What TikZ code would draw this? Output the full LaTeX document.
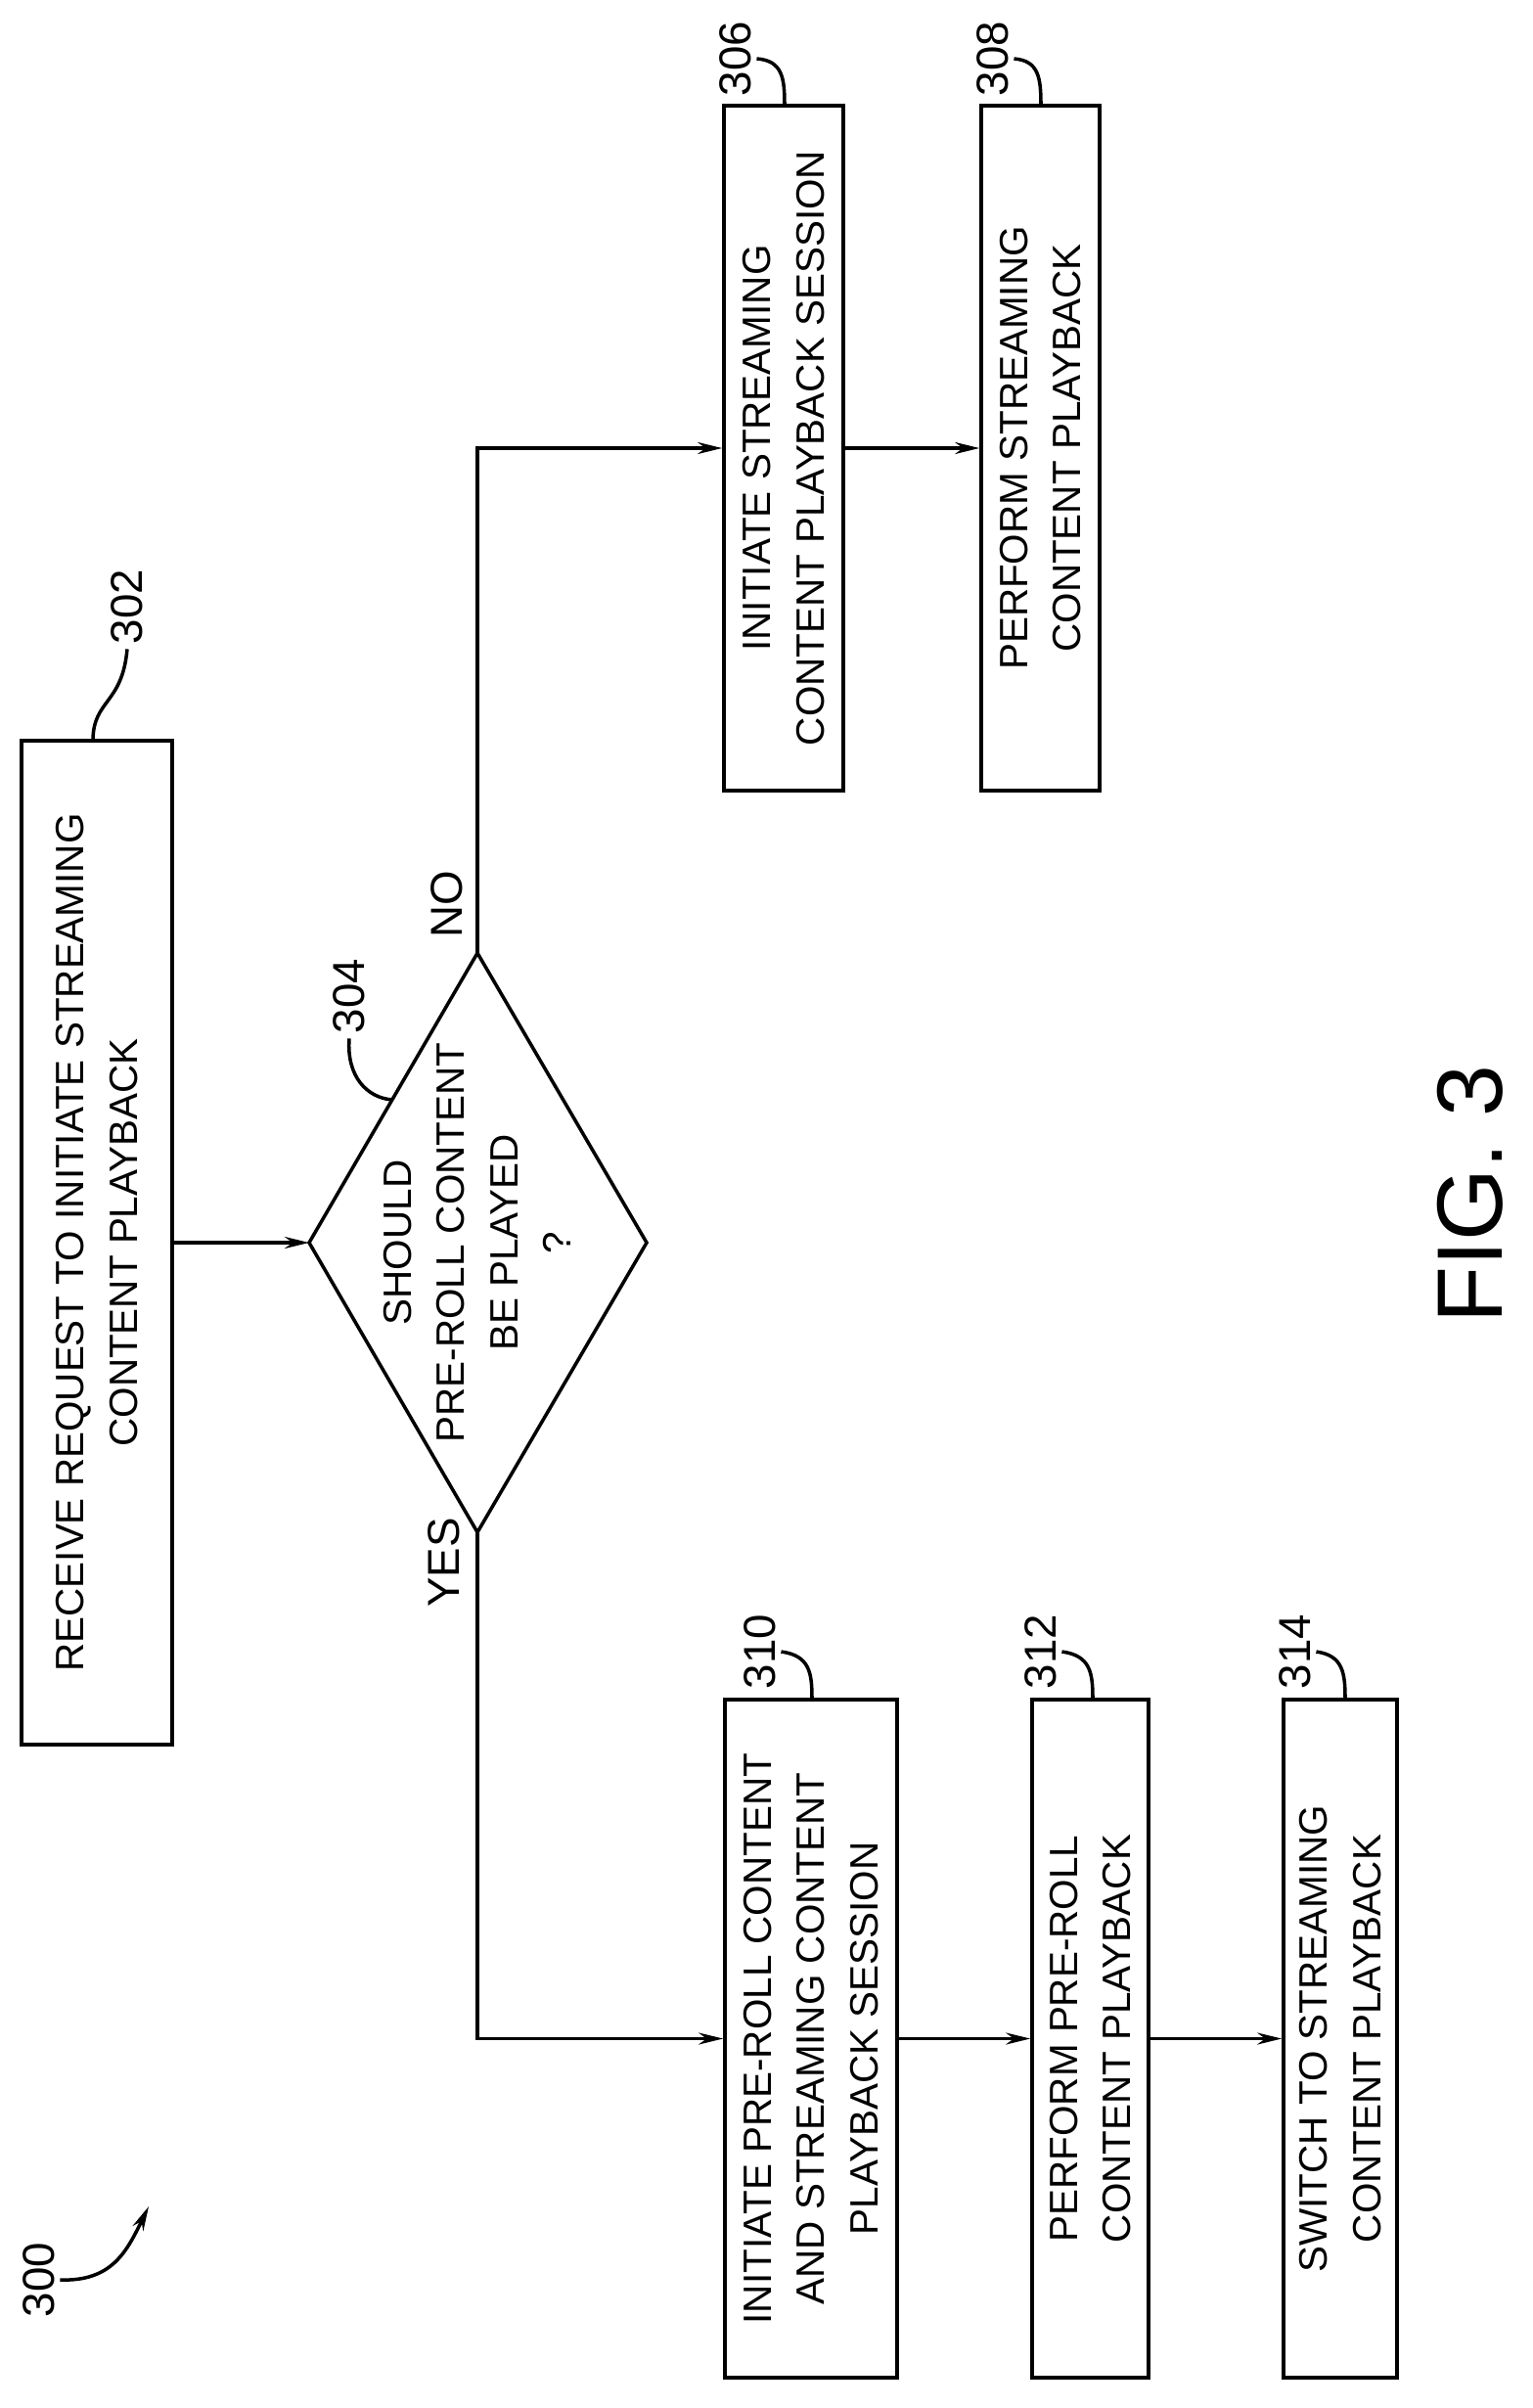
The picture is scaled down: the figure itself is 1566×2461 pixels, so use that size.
\documentclass[tikz,border=0pt]{standalone}
\usepackage{fontspec}
\setmainfont{Liberation Sans}
\usetikzlibrary{shapes.geometric,arrows.meta}
\begin{document}
\begin{tikzpicture}[x=0.01cm,y=-0.01cm,line width=1pt,
  box/.style={draw,rotate=90,align=center,inner sep=0pt,font=\fontsize{11.5}{15.5}\selectfont},
  lbl/.style={rotate=90,inner sep=1pt,font=\fontsize{13}{15}\selectfont},
  arr/.style={-{Stealth[length=0.25cm,width=0.12cm]}}]
\useasboundingbox (0,0) rectangle (1566,2461);
\node[box,minimum width=10.25cm,minimum height=1.54cm] (b302) at (99,1270) {RECEIVE REQUEST TO INITIATE STREAMING\\CONTENT PLAYBACK};
\coordinate (dl) at (316,1270);
\coordinate (dr) at (661,1270);
\coordinate (dt) at (488,974);
\coordinate (db) at (488,1566);
\draw (dl) -- (dt) -- (dr) -- (db) -- cycle;
\node[rotate=90,align=center,inner sep=0pt,font=\fontsize{11.5}{15.5}\selectfont] (d304) at (488,1270) {SHOULD\\PRE-ROLL CONTENT\\BE PLAYED\\?};
\node[box,minimum width=7cm,minimum height=1.22cm] (b306) at (801,458) {INITIATE STREAMING\\CONTENT PLAYBACK SESSION};
\node[box,minimum width=7cm,minimum height=1.21cm] (b308) at (1063.5,458) {PERFORM STREAMING\\CONTENT PLAYBACK};
\node[box,minimum width=6.93cm,minimum height=1.76cm] (b310) at (829,2083.5) {INITIATE PRE-ROLL CONTENT\\AND STREAMING CONTENT\\PLAYBACK SESSION};
\node[box,minimum width=6.93cm,minimum height=1.19cm] (b312) at (1114.5,2083.5) {PERFORM PRE-ROLL\\CONTENT PLAYBACK};
\node[box,minimum width=6.93cm,minimum height=1.16cm] (b314) at (1370,2083.5) {SWITCH TO STREAMING\\CONTENT PLAYBACK};

\draw[arr] (b302.south) -- (dl);
\draw[arr] (dt) |- (b306.north);
\draw[arr] (b306.south) -- (b308.north);
\draw[arr] (db) |- (b310.north);
\draw[arr] (b310.south) -- (b312.north);
\draw[arr] (b312.south) -- (b314.north);

\node[lbl] (no) at (457,924) {NO};
\node[lbl] (yes) at (454,1597) {YES};

\node[lbl] (l302) at (130,620) {302};
\node[lbl] (l304) at (357,1018) {304};
\node[lbl] (l306) at (752,60) {306};
\node[lbl] (l308) at (1015,60) {308};
\node[lbl] (l310) at (777,1688) {310};
\node[lbl] (l312) at (1064,1688) {312};
\node[lbl] (l314) at (1324,1688) {314};
\node[lbl] (l300) at (40,2330) {300};
\node[rotate=90,font=\fontsize{27}{30}\selectfont] (fig) at (1503,1221) {FIG. 3};

\coordinate (c302) at (95,757);
\coordinate (c304) at (401,1124);
\coordinate (c306) at (802,108);
\coordinate (c308) at (1064,108);
\coordinate (c310) at (830,1737);
\coordinate (c312) at (1117,1737);
\coordinate (c314) at (1375,1737);
\coordinate (c300) at (152,2255);

\draw (l302.west) .. controls (125,720) and (95,715) .. (c302);
\draw (l304.west) .. controls (354,1100) and (375,1122) .. (c304);
\draw (l306.south) .. controls (800,62) and (802,80) .. (c306);
\draw (l308.south) .. controls (1062,62) and (1064,80) .. (c308);
\draw (l310.south) .. controls (828,1692) and (830,1710) .. (c310);
\draw (l312.south) .. controls (1115,1692) and (1117,1710) .. (c312);
\draw (l314.south) .. controls (1373,1692) and (1375,1710) .. (c314);
\draw[arr] (l300.south) .. controls (115,2332) and (130,2300) .. (c300);
\end{tikzpicture}
\end{document}
